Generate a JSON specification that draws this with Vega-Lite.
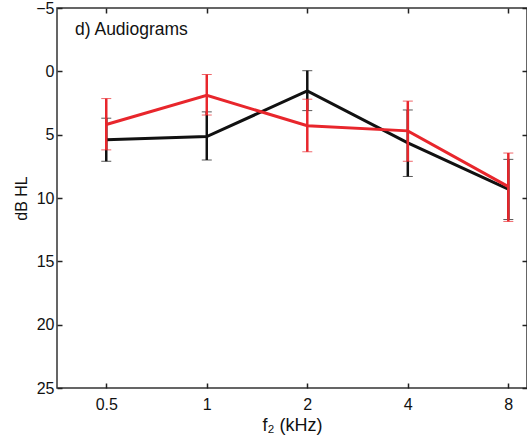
{
  "$schema": "https://vega.github.io/schema/vega-lite/v6.json",
  "autosize": {"type": "none"},
  "padding": {"left": 57, "top": 8, "right": 0, "bottom": 48},
  "width": 470,
  "height": 380,
  "background": "white",
  "config": {
    "view": {"stroke": "#333", "strokeWidth": 1.5},
    "font": "Liberation Sans",
    "axis": {
      "grid": false,
      "domain": false,
      "tickSize": -5,
      "tickColor": "#222",
      "tickWidth": 1.5,
      "labelFont": "Liberation Sans",
      "labelFontSize": 16,
      "labelColor": "#111",
      "titleFont": "Liberation Sans",
      "titleFontWeight": "normal",
      "titleColor": "#111"
    }
  },
  "title": {
    "text": "d) Audiograms",
    "anchor": "start",
    "frame": "group",
    "orient": "top",
    "offset": -38,
    "dx": 18,
    "fontSize": 17.5,
    "fontWeight": "normal",
    "color": "#111",
    "font": "Liberation Sans"
  },
  "data": {
    "values": [
      {"f": 0.5, "group": "A", "mean": 5.4, "lo": 3.7, "hi": 7.1},
      {"f": 1, "group": "A", "mean": 5.15, "lo": 3.2, "hi": 7.0},
      {"f": 2, "group": "A", "mean": 1.55, "lo": -0.05, "hi": 3.1},
      {"f": 4, "group": "A", "mean": 5.65, "lo": 3.05, "hi": 8.3},
      {"f": 8, "group": "A", "mean": 9.3, "lo": 6.95, "hi": 11.7},
      {"f": 0.5, "group": "B", "mean": 4.2, "lo": 2.15, "hi": 6.2},
      {"f": 1, "group": "B", "mean": 1.9, "lo": 0.25, "hi": 3.45},
      {"f": 2, "group": "B", "mean": 4.3, "lo": 2.2, "hi": 6.35},
      {"f": 4, "group": "B", "mean": 4.7, "lo": 2.35, "hi": 7.1},
      {"f": 8, "group": "B", "mean": 9.1, "lo": 6.45, "hi": 11.85}
    ]
  },
  "encoding": {
    "x": {
      "field": "f",
      "type": "quantitative",
      "scale": {"type": "log", "domain": [0.356, 9.1], "nice": false}
    },
    "y": {
      "field": "mean",
      "type": "quantitative",
      "scale": {"domain": [-5, 25], "reverse": true, "nice": false, "zero": false}
    },
    "color": {
      "field": "group",
      "type": "nominal",
      "scale": {"domain": ["A", "B"], "range": ["#111111", "#e8262c"]},
      "legend": null
    }
  },
  "layer": [
    {
      "transform": [{"filter": "datum.group == 'A'"}],
      "mark": {"type": "errorbar", "ticks": {"size": 10, "strokeWidth": 2.5}, "rule": {"strokeWidth": 2.5}},
      "encoding": {
        "x": {
          "field": "f", "type": "quantitative",
          "axis": {"values": [0.5, 1, 2, 4, 8], "title": "f₂ (kHz)", "titleFontSize": 18, "labelPadding": 13, "titlePadding": 4, "format": "~g", "orient": "bottom"}
        },
        "y": {
          "field": "lo", "type": "quantitative",
          "axis": {"values": [-5, 0, 5, 10, 15, 20, 25], "title": "dB HL", "titleFontSize": 16, "labelPadding": 8, "titlePadding": 6, "orient": "left"}
        },
        "y2": {"field": "hi"}
      }
    },
    {
      "transform": [{"filter": "datum.group == 'A'"}],
      "mark": {"type": "line", "strokeWidth": 3},
      "encoding": {
        "x": {"field": "f", "type": "quantitative", "axis": {"orient": "top", "values": [0.5, 1, 2, 4, 8], "labels": false, "title": null}},
        "y": {"field": "mean", "type": "quantitative", "axis": {"orient": "right", "values": [-5, 0, 5, 10, 15, 20, 25], "labels": false, "title": null}}
      }
    },
    {
      "transform": [{"filter": "datum.group == 'B'"}],
      "mark": {"type": "errorbar", "ticks": {"size": 10, "strokeWidth": 2.5}, "rule": {"strokeWidth": 2.5}},
      "encoding": {
        "x": {"field": "f", "type": "quantitative", "axis": null},
        "y": {"field": "lo", "type": "quantitative", "axis": null},
        "y2": {"field": "hi"}
      }
    },
    {
      "transform": [{"filter": "datum.group == 'B'"}],
      "mark": {"type": "line", "strokeWidth": 3},
      "encoding": {
        "x": {"field": "f", "type": "quantitative", "axis": null},
        "y": {"field": "mean", "type": "quantitative", "axis": null}
      }
    }
  ],
  "resolve": {"axis": {"x": "independent", "y": "independent"}}
}
